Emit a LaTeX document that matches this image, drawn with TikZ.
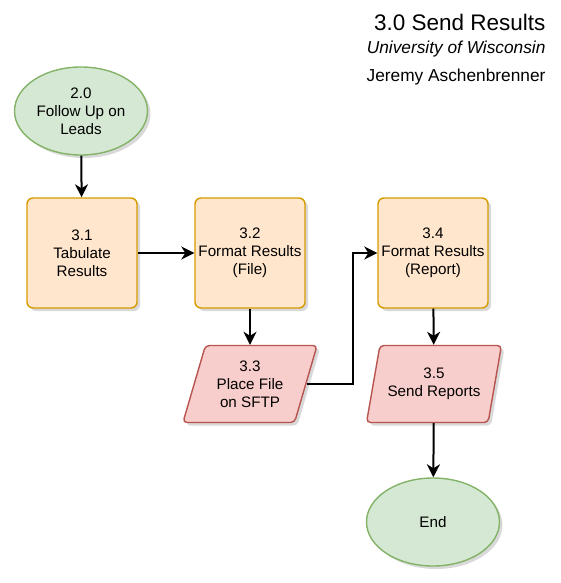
\documentclass[tikz,border=0pt]{standalone}
\usepackage{fontspec}
\setmainfont{Liberation Sans}
\usepackage{xcolor}
\usetikzlibrary{shapes.geometric}
\usetikzlibrary{positioning}
\usetikzlibrary{arrows.meta}
\usetikzlibrary{shadows}

\definecolor{procfill}{HTML}{FFE6CC}
\definecolor{procline}{HTML}{D79B00}
\definecolor{termfill}{HTML}{D5E8D4}
\definecolor{termline}{HTML}{82B366}
\definecolor{iofill}{HTML}{F8CECC}
\definecolor{ioline}{HTML}{B85450}

\tikzset{
	shade/.style={drop shadow={opacity=0.3,shadow xshift=3pt,shadow yshift=-3pt}},
	txt/.style={font=\fontsize{15.2}{17.8}\selectfont, align=center, text=black},
	process/.style={txt, shade, draw=procline, fill=procfill, line width=1.4pt,
		rounded corners=6pt, minimum width=110pt, minimum height=110pt, inner sep=0pt},
	terminal/.style={txt, shade, ellipse, draw=termline, fill=termfill, line width=1.4pt,
		minimum width=133pt, minimum height=88pt, inner sep=0pt},
	io/.style={txt, shade, trapezium, trapezium left angle=70, trapezium right angle=110,
		trapezium stretches=true, draw=ioline, fill=iofill, line width=1.4pt,
		rounded corners=4pt, minimum width=135pt, minimum height=77pt, inner sep=0pt},
	flow/.style={line width=2pt, -{Stealth[length=13pt,width=13pt,inset=4pt]}}
}

\begin{document}
\begin{tikzpicture}[x=1pt,y=-1pt]
	\useasboundingbox (0,0) rectangle (560,583);

	% header
	\node[anchor=east, font=\fontsize{22.5}{26}\selectfont] (title) at (549,22) {3.0 Send Results};
	\node[anchor=east, font=\fontsize{17.3}{20}\selectfont\itshape] (uni) at (549,49) {University of Wisconsin};
	\node[anchor=east, font=\fontsize{17.3}{20}\selectfont] (auth) at (549,77) {Jeremy Aschenbrenner};

	% steps
	\node[terminal] (s20) at (81,111) {2.0\\Follow Up on\\Leads};
	\node[process] (s31) at (82,253) {3.1\\Tabulate\\Results};
	\node[process] (s32) at (250,253) {3.2\\Format Results\\(File)};
	\node[io] (s33) at (250,384) {3.3\\Place File\\on SFTP};
	\node[process] (s34) at (433,253) {3.4\\Format Results\\(Report)};
	\node[io] (s35) at (434,384) {3.5\\Send Reports};
	\node[terminal] (send) at (433,522) {End};

	% connectors
	\draw[flow] (s20) -- (s31);
	\draw[flow] (s31) -- (s32);
	\draw[flow] (s32) -- (s33);
	\draw[flow] (s33.east) -- ++(46,0) |- (s34.west);
	\draw[flow] (s34) -- (s35);
	\draw[flow] (s35) -- (send);
\end{tikzpicture}
\end{document}
